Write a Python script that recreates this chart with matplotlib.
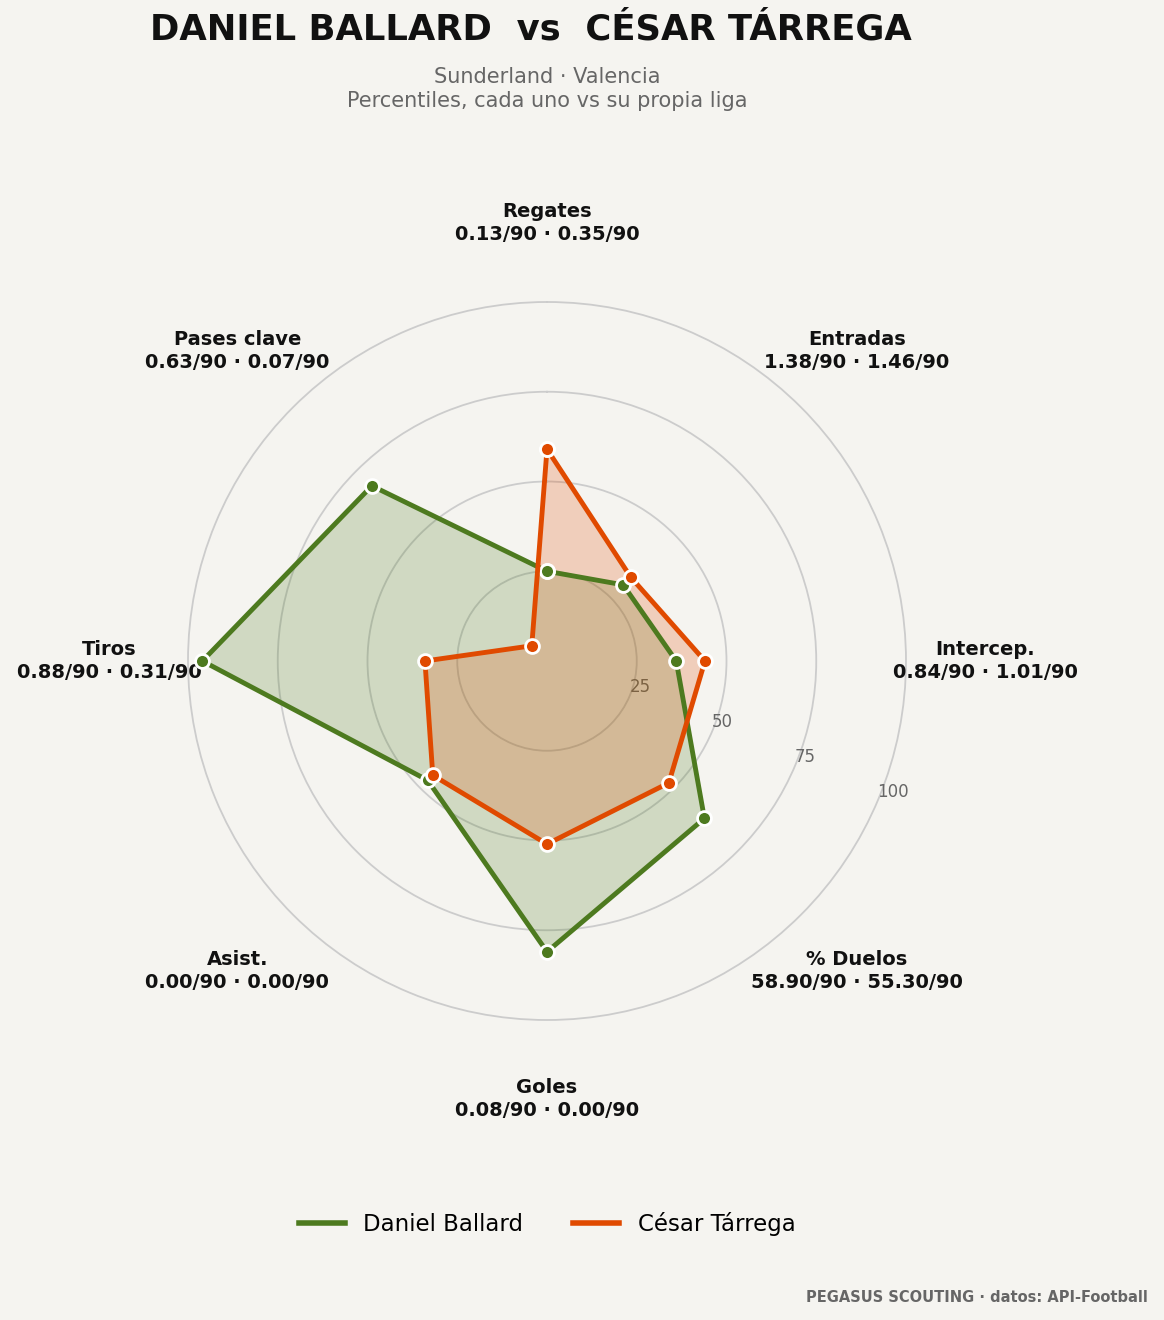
import numpy as np
import matplotlib
matplotlib.use("Agg")
import matplotlib.pyplot as plt

# metricas (en sentido horario desde arriba)
metrics = ['Regates', 'Entradas', 'Intercep.', '% Duelos', 'Goles', 'Asist.', 'Tiros', 'Pases clave']
ballard_raw = ['0.13/90', '1.38/90', '0.84/90', '58.90/90', '0.08/90', '0.00/90', '0.88/90', '0.63/90']
tarrega_raw = ['0.35/90', '1.46/90', '1.01/90', '55.30/90', '0.00/90', '0.00/90', '0.31/90', '0.07/90']

# percentiles
ballard_pct = [25, 30, 36, 62, 81, 47, 96, 69]
tarrega_pct = [59, 33, 44, 48, 51, 45, 34, 6]

players = ['Daniel Ballard', 'César Tárrega']
colors = ['#4d7a1f', '#e04a00']
BG = '#f5f4f0'

fig = plt.figure(figsize=(11.64, 13.2), dpi=100, facecolor=BG)
ax = fig.add_axes([188/1164, 300/1320, 718/1164, 718/1320], projection='polar')
ax.set_facecolor(BG)
ax.set_theta_zero_location('N')
ax.set_theta_direction(-1)

N = len(metrics)
angles = np.linspace(0, 2*np.pi, N, endpoint=False)
ang = np.concatenate([angles, angles[:1]])

for vals, col, name in zip([ballard_pct, tarrega_pct], colors, players):
    v = np.concatenate([vals, vals[:1]])
    ax.fill(ang, v, color=col, alpha=0.22, zorder=2, lw=0)
    ax.plot(ang, v, color=col, lw=3.5, zorder=4, label=name,
            marker='o', markersize=10, markeredgecolor='white', markeredgewidth=2)

ax.set_ylim(0, 100)
ax.set_rgrids([25, 50, 75, 100], labels=['25', '50', '75', '100'], fontsize=12, color='#666666')
ax.set_rlabel_position(113)
ax.yaxis.grid(True, color='#cccccc', lw=1.3, zorder=3)
for gl in ax.yaxis.get_gridlines():
    gl.set_clip_on(False)
ax.xaxis.grid(False)
ax.set_xticks(angles)
ax.set_xticklabels([])
ax.spines['polar'].set_visible(False)

for a, m, b, t in zip(angles, metrics, ballard_raw, tarrega_raw):
    ax.text(a, 122, m + '\n' + b + ' · ' + t, ha='center', va='center',
            fontsize=14, fontweight='bold', color='#111111', linespacing=1.25, clip_on=False)

fig.text(531/1164, 1 - 30/1320, 'DANIEL BALLARD  vs  CÉSAR TÁRREGA', ha='center', va='center',
         fontsize=25.5, fontweight='bold', color='#111111')
fig.text(547/1164, 1 - 89/1320, 'Sunderland · Valencia\nPercentiles, cada uno vs su propia liga',
         ha='center', va='center', fontsize=15, color='#666666', linespacing=1.2)

leg = fig.legend(loc='center', bbox_to_anchor=(547/1164, 1 - 1224/1320), ncol=2, frameon=False,
                 fontsize=16.5, handlelength=2.0, columnspacing=2.2)
for h in leg.legend_handles:
    h.set_marker('')
    h.set_linewidth(4)

fig.text(1148/1164, 1 - 1297/1320, 'PEGASUS SCOUTING · datos: API-Football', ha='right', va='center',
         fontsize=10.5, fontweight='bold', color='#666666')

fig.savefig('out.png', dpi=100, facecolor=BG)
